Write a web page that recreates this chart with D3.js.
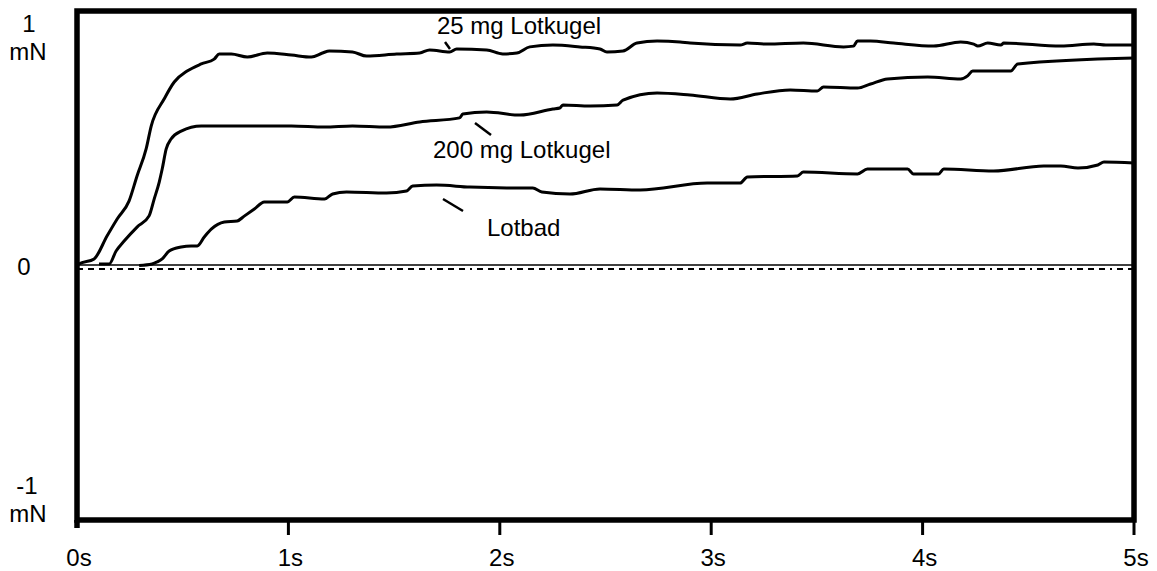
<!DOCTYPE html>
<html>
<head>
<meta charset="utf-8">
<script src="https://cdn.jsdelivr.net/npm/d3@7"></script>
<style>
  body { margin: 0; background: #fff; }
  svg text { font-family: "Liberation Sans", Arial, sans-serif; font-size: 24px; fill: #000; }
</style>
</head>
<body>
<div id="chart"></div>
<script>
// time in s, force in mN
var lotkugel25 = [
  [0, 0], [0.009, 0.006], [0.081, 0.026], [0.142, 0.116], [0.190, 0.183], [0.246, 0.253],
  [0.284, 0.352], [0.327, 0.458], [0.351, 0.548], [0.412, 0.654], [0.460, 0.721],
  [0.521, 0.764], [0.588, 0.792], [0.649, 0.811], [0.673, 0.831], [0.730, 0.831],
  [0.806, 0.819], [0.900, 0.835], [1.014, 0.827], [1.109, 0.819], [1.161, 0.835],
  [1.194, 0.843], [1.303, 0.839], [1.370, 0.823], [1.512, 0.831], [1.621, 0.835],
  [1.668, 0.847], [1.763, 0.839], [1.796, 0.851], [1.938, 0.847], [2.014, 0.831],
  [2.081, 0.835], [2.142, 0.859], [2.251, 0.866], [2.379, 0.859], [2.474, 0.851],
  [2.507, 0.839], [2.583, 0.843], [2.649, 0.874], [2.744, 0.882], [2.853, 0.878],
  [2.900, 0.874], [3.137, 0.866], [3.171, 0.874], [3.265, 0.870], [3.436, 0.874],
  [3.626, 0.859], [3.673, 0.862], [3.692, 0.882], [3.754, 0.882], [3.863, 0.874],
  [4.052, 0.862], [4.180, 0.878], [4.242, 0.870], [4.261, 0.862], [4.308, 0.874],
  [4.370, 0.866], [4.384, 0.874], [4.654, 0.862], [4.810, 0.870], [4.867, 0.866],
  [5.000, 0.866]
];

var lotkugel200 = [
  [0.104, 0.006], [0.152, 0.006], [0.185, 0.057], [0.223, 0.096], [0.284, 0.151],
  [0.341, 0.195], [0.365, 0.261], [0.389, 0.328], [0.403, 0.379], [0.422, 0.458],
  [0.445, 0.497], [0.493, 0.528], [0.588, 0.548], [0.697, 0.548], [0.853, 0.548],
  [1.014, 0.548], [1.171, 0.544], [1.303, 0.548], [1.464, 0.544], [1.621, 0.564],
  [1.810, 0.580], [1.825, 0.595], [1.938, 0.603], [2.095, 0.591], [2.251, 0.615],
  [2.284, 0.619], [2.299, 0.631], [2.427, 0.627], [2.555, 0.631], [2.583, 0.650],
  [2.744, 0.678], [2.900, 0.670], [3.090, 0.654], [3.218, 0.674], [3.374, 0.690],
  [3.502, 0.686], [3.531, 0.701], [3.692, 0.697], [3.754, 0.713], [3.834, 0.733],
  [4.024, 0.741], [4.180, 0.733], [4.213, 0.745], [4.237, 0.764], [4.417, 0.764],
  [4.450, 0.792], [5.000, 0.815]
];

var lotbad = [
  [0.294, 0], [0.355, 0.006], [0.379, 0.014], [0.403, 0.026], [0.436, 0.057],
  [0.493, 0.073], [0.540, 0.077], [0.569, 0.077], [0.602, 0.112], [0.635, 0.143],
  [0.697, 0.171], [0.758, 0.175], [0.791, 0.194], [0.839, 0.222], [0.886, 0.250],
  [0.995, 0.250], [1.028, 0.269], [1.171, 0.261], [1.209, 0.281], [1.275, 0.289],
  [1.464, 0.285], [1.559, 0.293], [1.588, 0.312], [1.701, 0.316], [1.858, 0.308],
  [2.033, 0.305], [2.156, 0.305], [2.199, 0.289], [2.332, 0.281], [2.474, 0.301],
  [2.664, 0.297], [2.981, 0.324], [3.137, 0.324], [3.171, 0.348], [3.408, 0.352],
  [3.436, 0.367], [3.692, 0.360], [3.739, 0.379], [3.929, 0.379], [3.957, 0.360],
  [4.076, 0.360], [4.100, 0.379], [4.336, 0.371], [4.573, 0.391], [4.654, 0.391],
  [4.735, 0.383], [4.829, 0.395], [4.858, 0.407], [5.000, 0.403]
];

var xTicks = [0, 1, 2, 3, 4, 5];
var xTickLabels = ["0s", "1s", "2s", "3s", "4s", "5s"];

var seriesNames = ["25 mg Lotkugel", "200 mg Lotkugel", "Lotbad"];

var width = 1157;
var height = 571;

var x = d3.scaleLinear().domain([0, 5]).range([77, 1134]);
var y = d3.scaleLinear().domain([-1, 1]).range([520, 11]);

var svg = d3.select("#chart")
  .append("svg")
  .attr("width", width)
  .attr("height", height);

// zero line and dash-dot reference just below it
svg.append("line")
  .attr("x1", x(0)).attr("x2", x(5))
  .attr("y1", y(0) - 0.5).attr("y2", y(0) - 0.5)
  .attr("stroke", "#000").attr("stroke-width", 1.3);

svg.append("line")
  .attr("x1", x(0)).attr("x2", x(5))
  .attr("y1", y(0) + 3.5).attr("y2", y(0) + 3.5)
  .attr("stroke", "#000").attr("stroke-width", 1.8)
  .attr("stroke-dasharray", "6,5,6,5,6,5,2,5");

var line = d3.line()
  .x(function(d) { return x(d[0]); })
  .y(function(d) { return y(d[1]); })
  .curve(d3.curveMonotoneX);

svg.selectAll("path.curve")
  .data([lotkugel25, lotkugel200, lotbad])
  .enter()
  .append("path")
  .attr("class", "curve")
  .attr("d", line)
  .attr("fill", "none")
  .attr("stroke", "#000")
  .attr("stroke-width", 3)
  .attr("stroke-linejoin", "round");

// frame
svg.append("rect")
  .attr("x", x(0)).attr("y", y(1))
  .attr("width", x(5) - x(0)).attr("height", y(-1) - y(1))
  .attr("fill", "none").attr("stroke", "#000").attr("stroke-width", 5.5);

// ticks below the frame
svg.append("line")
  .attr("x1", x(0)).attr("x2", x(0))
  .attr("y1", y(-1)).attr("y2", y(-1) + 8)
  .attr("stroke", "#000").attr("stroke-width", 5.5);

svg.selectAll("line.tick")
  .data(xTicks.slice(1))
  .enter()
  .append("line")
  .attr("class", "tick")
  .attr("x1", function(d) { return x(d); })
  .attr("x2", function(d) { return x(d); })
  .attr("y1", y(-1))
  .attr("y2", y(-1) + 15)
  .attr("stroke", "#000")
  .attr("stroke-width", 3);

svg.selectAll("text.xlab")
  .data(xTicks)
  .enter()
  .append("text")
  .attr("class", "xlab")
  .attr("x", function(d) { return x(d) + 2; })
  .attr("y", 566)
  .attr("text-anchor", "middle")
  .text(function(d, i) { return xTickLabels[i]; });

// y labels
var ylab = [
  ["1", 29, 32], ["mN", 28, 60],
  ["0", 24, 275],
  ["-1", 27, 494], ["mN", 28, 522]
];
svg.selectAll("text.ylab")
  .data(ylab)
  .enter()
  .append("text")
  .attr("class", "ylab")
  .attr("x", function(d) { return d[1]; })
  .attr("y", function(d) { return d[2]; })
  .attr("text-anchor", "middle")
  .text(function(d) { return d[0]; });

// series labels with short leader lines
svg.append("text").attr("x", 437).attr("y", 34).text(seriesNames[0]);
svg.append("line").attr("x1", 445).attr("y1", 42).attr("x2", 450).attr("y2", 49)
  .attr("stroke", "#000").attr("stroke-width", 2.5);

svg.append("text").attr("x", 433).attr("y", 158).text(seriesNames[1]);
svg.append("line").attr("x1", 475).attr("y1", 123).attr("x2", 491).attr("y2", 135)
  .attr("stroke", "#000").attr("stroke-width", 2.5);

svg.append("text").attr("x", 487).attr("y", 236).text(seriesNames[2]);
svg.append("line").attr("x1", 443).attr("y1", 199).attr("x2", 463).attr("y2", 211)
  .attr("stroke", "#000").attr("stroke-width", 2.5);
</script>
</body>
</html>
